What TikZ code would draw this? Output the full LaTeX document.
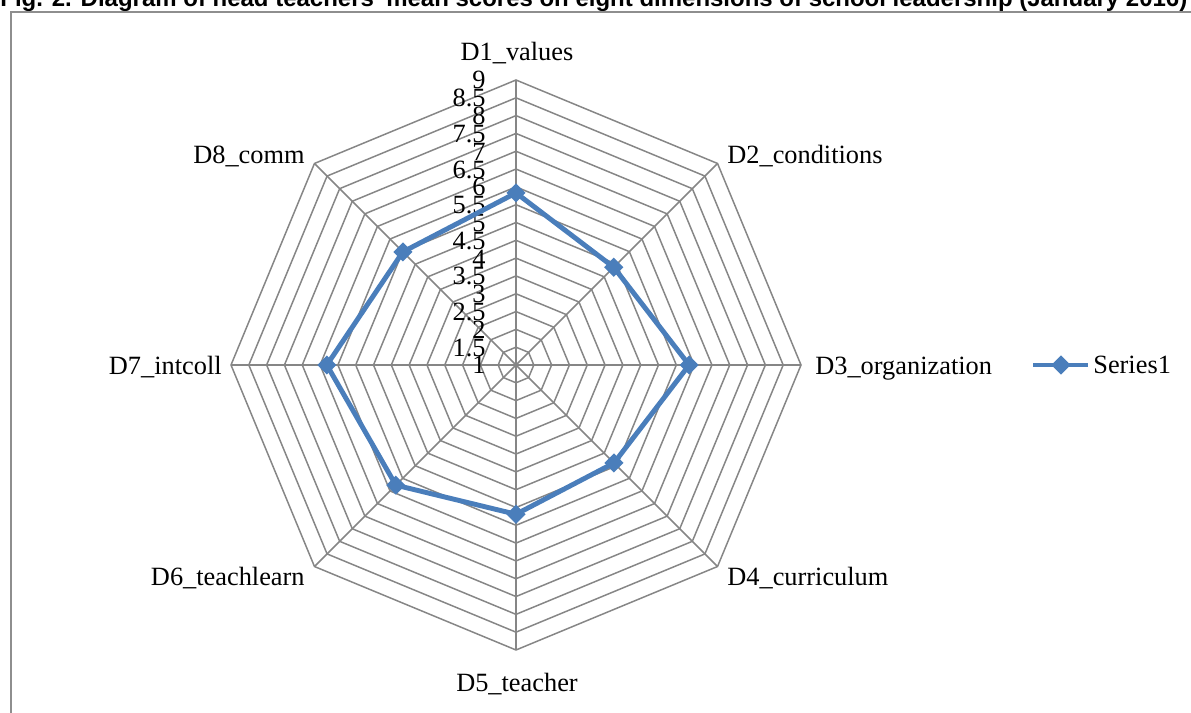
\documentclass[tikz,border=0pt]{standalone}
\usepackage{fontspec}
\setmainfont{Liberation Serif}
\newfontfamily\titlefont{Liberation Sans}
\usepackage{tikz}
\usetikzlibrary{positioning,shapes.geometric}
\definecolor{gridGrey}{HTML}{868686}
\definecolor{frameGrey}{HTML}{8E8E8E}
\definecolor{seriesBlue}{HTML}{4A7EBB}
\tikzset{
  gridline/.style  ={draw=gridGrey, line width=0.85pt},
  frameline/.style ={draw=frameGrey, line width=1.4pt},
  seriesline/.style={draw=seriesBlue, line width=2.8pt, line join=round},
  seriesmark/.style={diamond, fill=seriesBlue, inner sep=0pt, minimum size=11pt},
  axislabel/.style ={font=\fontsize{15}{17}\selectfont, inner sep=0pt},
  ticklabel/.style ={font=\fontsize{15}{17}\selectfont, inner sep=0pt, anchor=base east},
  titlecell/.style ={font=\titlefont\bfseries\fontsize{13.65}{15}\selectfont, inner sep=0pt, anchor=base west},
}

\begin{document}
\begin{tikzpicture}[x=0.02cm,y=0.02cm]

% --- geometry (1 unit = 1 px of the chart) ----------------------------------
\def\cx{516}        % chart centre
\def\cy{348}
\def\unitR{35.625}  % radius per score point (1 ... 9)
\def\rOut{285}      % outer ring, score 9

\useasboundingbox (0,0) rectangle (1191,713);
\clip (0,0) rectangle (1191,713);

% --- title and chart frame --------------------------------------------------
\node[titlecell] (title) at (0,706)
  {Fig. 2. Diagram of head teachers' mean scores on eight dimensions of school leadership (January 2016)};
\draw[frameline] (11,-10) -- (11,701) -- (1200,701);

\begin{scope}[shift={(\cx,\cy)}]
  % rings, every half point
  \foreach \v in {1.5,2,...,9}{
    \pgfmathsetmacro{\rr}{(\v-1)*\unitR}
    \draw[gridline] (90:\rr) -- (45:\rr) -- (0:\rr) -- (-45:\rr) -- (-90:\rr)
      -- (-135:\rr) -- (180:\rr) -- (135:\rr) -- cycle;
  }
  % spokes
  \foreach \k/\a in {1/90,2/45,3/0,4/-45,5/-90,6/-135,7/180,8/135}{
    \draw[gridline] (0,0) -- (\a:\rOut) coordinate (ax\k);
  }
  % scale values on the D1 spoke
  \foreach \v [count=\i] in {1,1.5,2,2.5,3,3.5,4,4.5,5,5.5,6,6.5,7,7.5,8,8.5,9}{
    \node[ticklabel] (tk\i) at (-30,{(\v-1)*\unitR-9}) {\v};
  }
  % series points
  \foreach \k/\a/\s in {1/90/5.83,2/45/4.88,3/0/5.86,4/-45/4.89,
                        5/-90/5.19,6/-135/5.77,7/180/6.31,8/135/5.49}{
    \coordinate (p\k) at (\a:{(\s-1)*\unitR});
  }
\end{scope}

% --- Series1 ----------------------------------------------------------------
\draw[seriesline] (p1) -- (p2) -- (p3) -- (p4) -- (p5) -- (p6) -- (p7) -- (p8) -- cycle;
\foreach \k in {1,...,8}{
  \node[seriesmark] (m\k) at (p\k) {};
}

% --- dimension labels -------------------------------------------------------
\node[axislabel, anchor=base]      (lbl1) at ([shift={(1,19.5)}]ax1)    {D1\_values};
\node[axislabel, anchor=base west] (lbl2) at ([shift={(9.5,-0.5)}]ax2)  {D2\_conditions};
\node[axislabel, anchor=base west] (lbl3) at ([shift={(14,-9.5)}]ax3)   {D3\_organization};
\node[axislabel, anchor=base west] (lbl4) at ([shift={(9.5,-19)}]ax4)   {D4\_curriculum};
\node[axislabel, anchor=base]      (lbl5) at ([shift={(1,-41.5)}]ax5)   {D5\_teacher};
\node[axislabel, anchor=base east] (lbl6) at ([shift={(-9.5,-19)}]ax6)  {D6\_teachlearn};
\node[axislabel, anchor=base east] (lbl7) at ([shift={(-9,-9.5)}]ax7)   {D7\_intcoll};
\node[axislabel, anchor=base east] (lbl8) at ([shift={(-9.5,-0.5)}]ax8) {D8\_comm};

% --- legend -----------------------------------------------------------------
\coordinate (lega) at (1033,348);
\coordinate (legb) at (1088,348);
\draw[seriesline] (lega) -- (legb);
\node[seriesmark] (legm) at (1061,348) {};
\node[axislabel, anchor=base west] (legt) at (1093,339) {Series1};

\end{tikzpicture}
\end{document}
